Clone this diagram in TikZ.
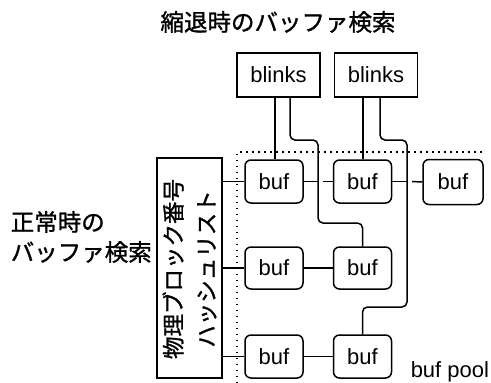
\documentclass[tikz,border=0pt]{standalone}
\usepackage{fontspec}
\setmainfont{Liberation Sans}
\newfontfamily\jp{Noto Sans CJK JP}[FakeBold=1.2]
\usetikzlibrary{calc}
\begin{document}
\begin{tikzpicture}[x=1pt,y=-1pt,line width=1.5pt,
  bufbox/.style={draw,rounded corners=6pt,minimum width=58pt,minimum height=43pt,inner sep=0pt,font=\fontsize{22}{24}\selectfont},
  blbox/.style={draw,minimum width=83pt,minimum height=44pt,inner sep=0pt,font=\fontsize{22}{24}\selectfont},
  conn/.style={rounded corners=5pt},
  pool/.style={line width=1.5pt,dash pattern=on 1.5pt off 4.5pt},
  jptext/.style={font=\jp\fontsize{23.5}{30}\selectfont,inner sep=0pt}]
\useasboundingbox (0,0) rectangle (491,383);
% title
\node[jptext] (title) at (278,22) {縮退時のバッファ検索};
\node[jptext,anchor=west,align=left] (normal) at (10,237) {正常時の\\バッファ検索};
% blinks
\node[blbox] (bl1) at (278.5,75) {blinks};
\node[blbox] (bl2) at (376,75) {blinks};
% hash list
\node[draw,minimum width=65pt,minimum height=220pt,inner sep=0pt] (hash) at (189.5,268) {};
\node[rotate=90,align=center,font=\jp\fontsize{22.5}{33}\selectfont,inner sep=0pt] (hashtext) at (189.5,269) {物理ブロック番号\\ハッシュリスト};
% bufs
\node[bufbox] (b11) at (274,181.5) {buf};
\node[bufbox] (b12) at (362.5,181.5) {buf};
\node[bufbox,minimum width=60pt,minimum height=45pt] (b13) at (453,182) {buf};
\node[bufbox,minimum height=42pt] (b21) at (274,268) {buf};
\node[bufbox,minimum height=42pt] (b22) at (362.5,268) {buf};
\node[bufbox] (b31) at (274,356.5) {buf};
\node[bufbox] (b32) at (362.5,356.5) {buf};
\node[anchor=base west,font=\fontsize{22}{24}\selectfont,inner sep=0pt] (pooltext) at (410,377) {buf pool};
% pool boundary
\coordinate (p1) at (237,383);
\coordinate (p2) at (237,152);
\coordinate (p3) at (486,152);
\draw[pool] (p1) -- (p2) -- (p3);
% hash connectors
\draw (hash.east |- b11.west) -- (b11.west);
\draw (hash.east |- b21.west) -- (b21.west);
\draw (hash.east |- b31.west) -- (b31.west);
% blinks routes
\coordinate (k1) at (318,140);
\coordinate (k2) at (318,223);
\coordinate (k3) at (407,140);
\coordinate (k4) at (407,307);
\draw ([xshift=-3.5pt]bl1.south) -- ([xshift=-3.5pt]bl1.south |- b11.north);
\draw[conn] ([xshift=11.5pt]bl1.south) |- (k1) -- (k2) -| (b22.north);
\draw ([xshift=-13pt]bl2.south) -- ([xshift=-13pt]bl2.south |- b12.north);
\draw[conn] ([xshift=4pt]bl2.south) |- (k3) -- (k4) -| (b32.north);
% chain connectors
\coordinate (c1) at (k1 |- b11.east);
\coordinate (g1) at ($(c1)+(5,0)$);
\coordinate (c2) at (k3 |- b12.east);
\coordinate (g2) at ($(c2)+(5,0)$);
\draw (b11.east) -- (c1);
\draw (g1) -- (b12.west);
\draw (b12.east) -- (c2);
\draw (g2) -- (b13.west);
\draw (b21) -- (b22);
\draw (b31) -- (b32);
\end{tikzpicture}
\end{document}
